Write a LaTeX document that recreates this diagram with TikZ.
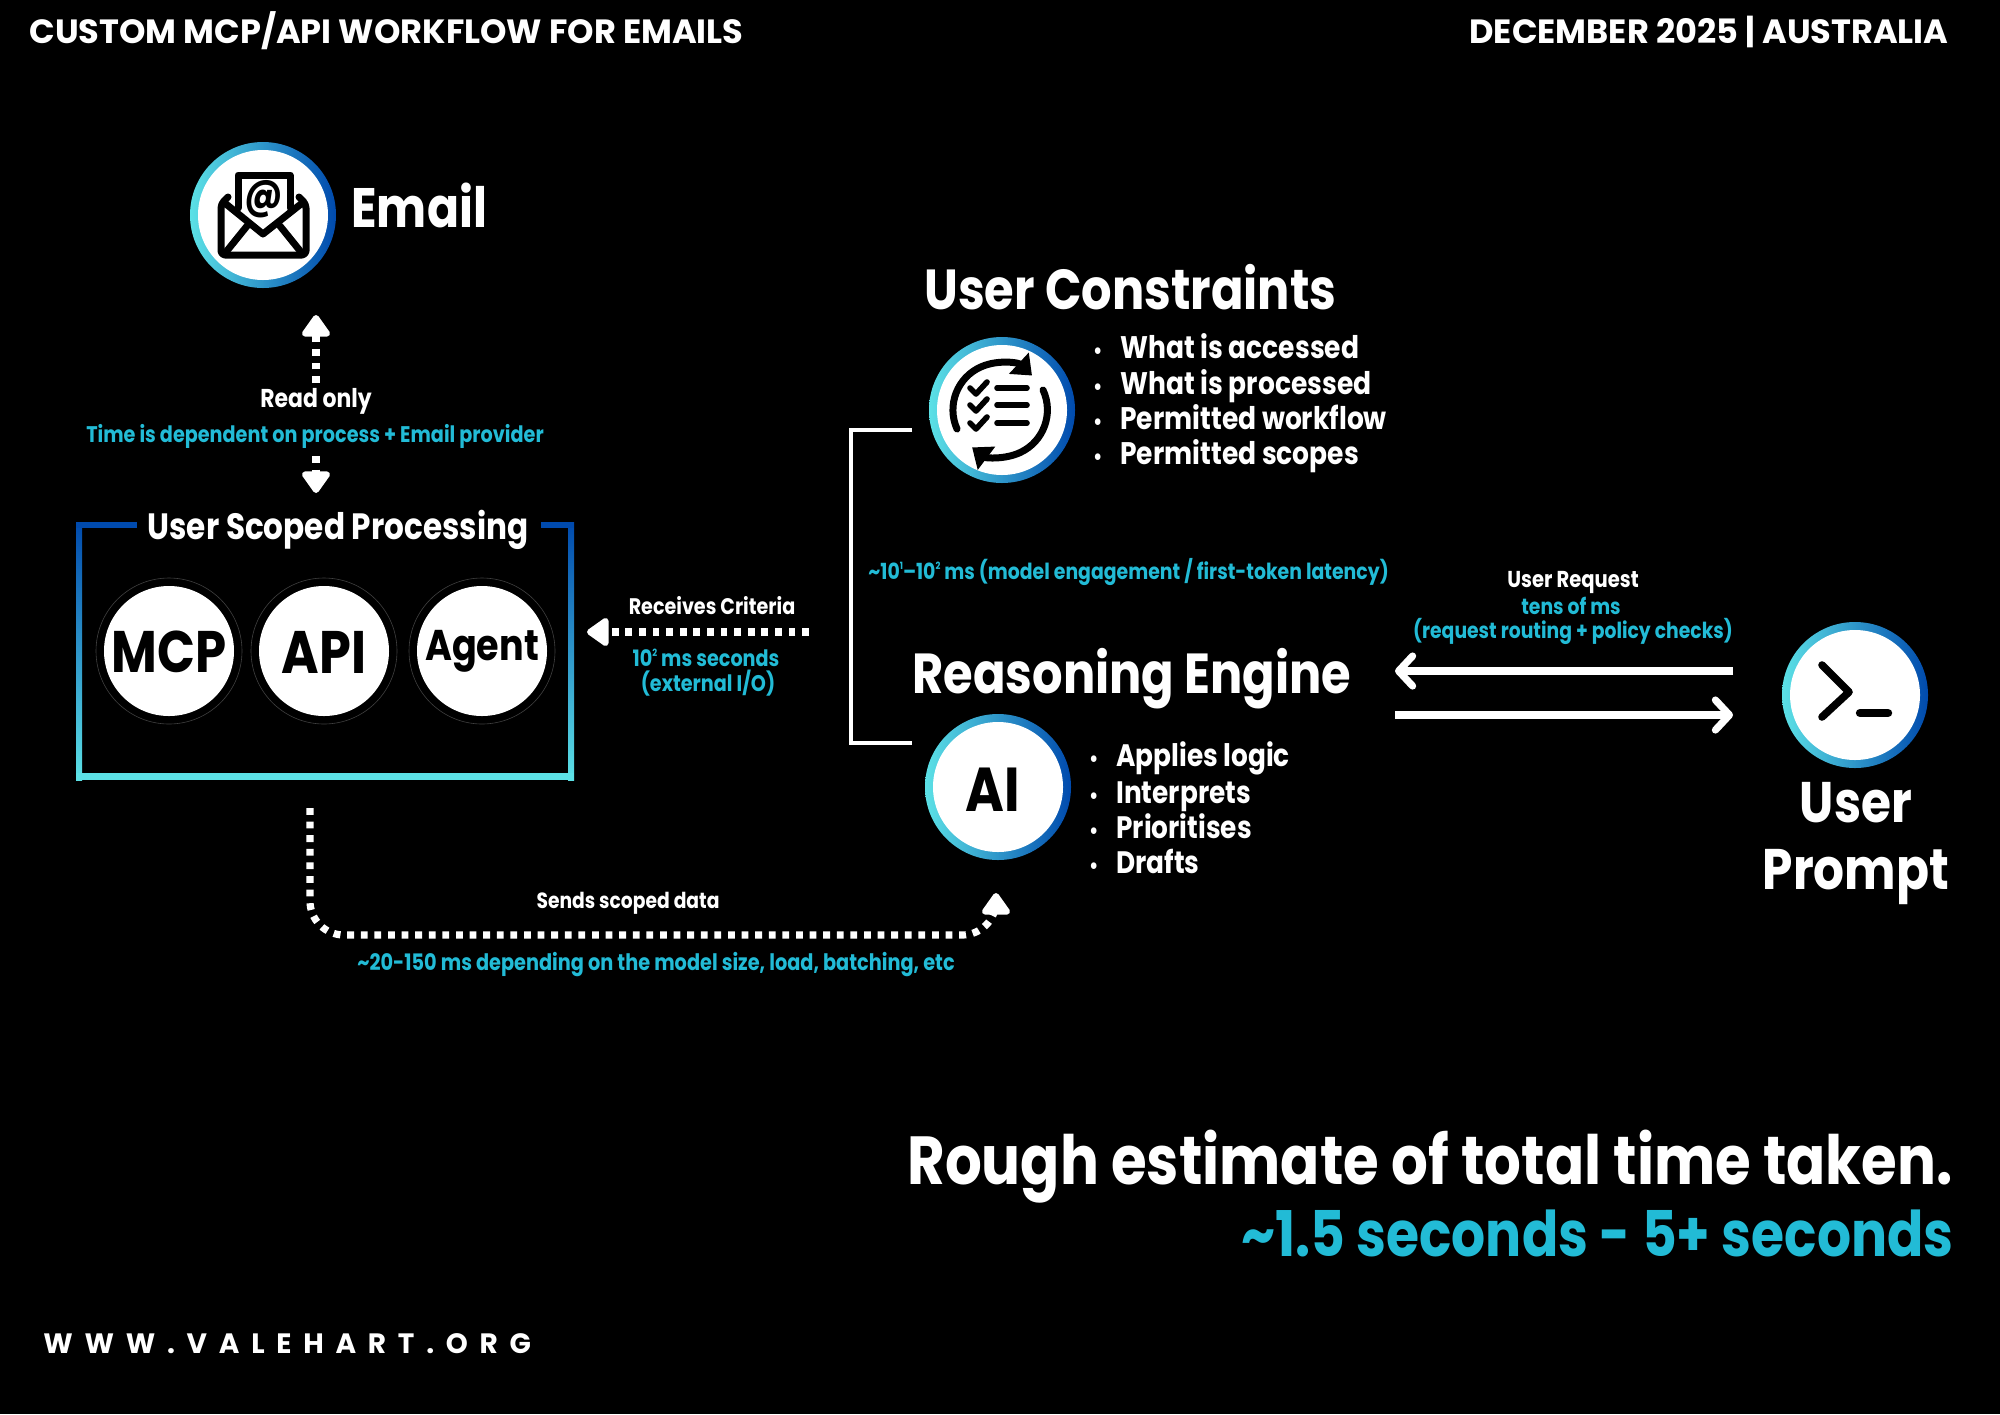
\documentclass[tikz,border=0pt]{standalone}
\usepackage{fontspec}
\setmainfont{Poppins}[FakeStretch=0.85]
\newfontfamily\widefont{Poppins}
\usetikzlibrary{arrows.meta, positioning}
\definecolor{tealtext}{HTML}{22BBD6}
\definecolor{ringcyan}{HTML}{5CE1E6}
\definecolor{ringblue}{HTML}{004AAD}
\newcommand{\sz}[1]{\fontsize{#1}{#1}\selectfont\bfseries}
\newcommand{\tinysup}[1]{\raisebox{0.75ex}{\fontsize{5}{5}\selectfont #1}}
\tikzset{
  % one unit is one pixel of the 2000x1414 picture, y runs downward
  x=0.5pt, y=-0.5pt,
  white text/.style={text=white, inner sep=0pt, anchor=base},
  teal text/.style={text=tealtext, inner sep=0pt, anchor=base},
  ring/.style={circle, draw=none, inner sep=0pt, minimum size=73pt, left color=ringcyan, right color=ringblue},
  disc/.style={circle, fill=white, inner sep=0pt, minimum size=65pt},
  dotted arrow/.style={draw=white, line width=3.6pt, dash pattern=on 3.4pt off 3.4pt,
    -{Triangle[round, length=12pt, width=16pt]}},
  solid arrow/.style={draw=white, line width=3.8pt, -{Straight Barb[round, length=7pt, width=15pt, line width=3.6pt]}},
  icon line/.style={draw=black, line width=3.5pt, line cap=round, line join=round},
}
\begin{document}
\begin{tikzpicture}
  \useasboundingbox (0,0) rectangle (2000,1414);
  \fill[black] (0,0) rectangle (2000,1414);

  % header and footer
  \node[white text, anchor=base west, font=\widefont\sz{16.8}] (title) at (29,43) {CUSTOM MCP/API WORKFLOW FOR EMAILS};
  \node[white text, anchor=base east, font=\widefont\sz{16.8}] (date) at (1949,43) {DECEMBER 2025 | AUSTRALIA};
  \node[white text, anchor=base west, font=\widefont\sz{14}\addfontfeature{LetterSpace=42}] (site) at (43,1353) {WWW.VALEHART.ORG};
  \node[white text, anchor=base east, font=\sz{34}] (estimate) at (1953,1184) {Rough estimate of total time taken.};
  \node[teal text, anchor=base east, font=\sz{31.5}] (total) at (1954,1256) {\textasciitilde1.5 seconds - 5+ seconds};

  % email
  \node[ring] (email_ring) at (263,215) {};
  \node[disc] (email_disc) at (email_ring) {};
  \node[white text, anchor=base west, font=\sz{27.8}] (email_label) at (351,227) {Email};
  \draw[icon line] (238,208) -- (238,175) -- (290,175) -- (290,208);
  \node[inner sep=0pt, text=black, font=\sz{21}] (email_at) at (264,199) {@};
  \draw[icon line, rounded corners=2pt] (228,197) -- (221,204) -- (221,255) -- (306,255) -- (306,204) -- (299,197);
  \draw[icon line] (226,204) -- (263,234) -- (301,204);
  \draw[icon line] (226,252) -- (247,226);
  \draw[icon line] (301,252) -- (280,226);

  \node[white text, font=\sz{12.9}] (read_label) at (316,407) {Read only};
  \node[teal text, font=\sz{11.3}] (read_time) at (315,442) {Time is dependent on process + Email provider};
  \coordinate (read_up) at (316,315);
  \coordinate (read_down) at (316,493);
  \draw[dotted arrow] (316,383) -- (read_up);
  \draw[dotted arrow] (316,456) -- (read_down);

  % scoped processing frame
  \shade[top color=ringblue, bottom color=ringcyan] (76,522) rectangle (82,780);
  \shade[top color=ringblue, bottom color=ringcyan] (568,522) rectangle (574,780);
  \fill[ringcyan] (76,773) rectangle (574,780);
  \fill[ringblue] (76,522) rectangle (137,528);
  \fill[ringblue] (541,522) rectangle (574,528);
  \node[white text, font=\sz{18.3}] (scoped_label) at (338,539) {User Scoped Processing};
  \foreach \name/\xpos/\ypos/\size in {MCP/169/652/29.3, API/324/652/30, Agent/482/651/21.5} {
    \node[circle, draw=white!25!black, line width=0.3pt, inner sep=0pt, minimum size=73pt] (\name_outer) at (\xpos,651) {};
    \node[disc] (\name_disc) at (\xpos,651) {};
    \node[inner sep=0pt, text=black, font=\sz{\size}] (\name_label) at (\xpos,\ypos) {\name};
  }

  % receives criteria
  \coordinate (criteria_end) at (809,632);
  \coordinate (criteria_tip) at (587,632);
  \draw[dotted arrow] (criteria_end) -- (criteria_tip);
  \node[white text, font=\sz{11.25}] (criteria_label) at (712,614) {Receives Criteria};
  \node[teal text, font=\sz{11.3}] (criteria_time) at (706,666) {10\tinysup{2} ms seconds};
  \node[teal text, font=\sz{11.3}] (criteria_io) at (708,691) {(external I/O)};

  % scoped data
  \coordinate (data_start) at (310,808);
  \coordinate (data_tip) at (996,893);
  \draw[dotted arrow, rounded corners=17pt] (data_start) -- (310,935) -- (996,935) -- (data_tip);
  \node[white text, font=\sz{11}] (data_label) at (628,908) {Sends scoped data};
  \node[teal text, font=\sz{11.35}] (data_time) at (656,970) {\textasciitilde20-150 ms depending on the model size, load, batching, etc};

  % constraints
  \node[white text, anchor=base west, font=\sz{28.2}] (constraints_label) at (924,309) {User Constraints};
  \node[ring] (constraints_ring) at (1002,410) {};
  \node[disc] (constraints_disc) at (constraints_ring) {};
  \draw[icon line, -{Triangle[length=9pt, width=14pt]}] (957,429) arc[start angle=156, end angle=313, radius=47];
  \draw[icon line, -{Triangle[length=9pt, width=14pt]}] (1043,390) arc[start angle=335, end angle=487, radius=47];
  \foreach \ypos in {388,405,423} {
    \draw[icon line, line width=2.8pt] (970,\ypos) -- (976,\ypos+6) -- (987,\ypos-6);
    \draw[icon line, line width=2.8pt] (997,\ypos) -- (1027,\ypos);
  }
  \foreach \item/\ypos in {What is accessed/358, What is processed/394, Permitted workflow/429, Permitted scopes/464} {
    \node[white text, anchor=base west, font=\sz{15.6}] at (1120,\ypos) {\llap{\fontsize{11}{11}\selectfont\textbullet\hspace{9pt}}\item};
  }

  % bracket between constraints and engine
  \coordinate (bracket_top) at (912,430);
  \coordinate (bracket_bottom) at (912,743);
  \draw[white, line width=1.6pt] (bracket_top) -- (851,430) -- (851,743) -- (bracket_bottom);
  \node[teal text, anchor=base west, font=\sz{11.1}] (engine_time) at (868,579) {\textasciitilde10\tinysup{1}--10\tinysup{2} ms (model engagement / first-token latency)};

  % engine
  \node[white text, anchor=base west, font=\sz{28.2}] (engine_label) at (912,693) {Reasoning Engine};
  \node[ring] (engine_ring) at (998,787) {};
  \node[disc] (engine_disc) at (engine_ring) {};
  \node[inner sep=0pt, text=black, font=\sz{31}] (engine_ai) at (993,790) {AI};
  \foreach \item/\ypos in {Applies logic/766, Interprets/803, Prioritises/838, Drafts/873} {
    \node[white text, anchor=base west, font=\sz{15.5}] at (1116,\ypos) {\llap{\fontsize{11}{11}\selectfont\textbullet\hspace{9pt}}\item};
  }

  % prompt
  \node[ring] (prompt_ring) at (1855,695) {};
  \node[disc] (prompt_disc) at (prompt_ring) {};
  \draw[icon line, line width=3.8pt] (1822,665) -- (1849,692) -- (1822,717);
  \draw[icon line, line width=4.2pt] (1860,713) -- (1888,713);
  \node[white text, font=\sz{28.6}] (prompt_user) at (1856,822) {User};
  \node[white text, font=\sz{28.6}] (prompt_label) at (1856,889) {Prompt};

  \coordinate (request_right_top) at (1733,671);
  \coordinate (request_left_top) at (1395,671);
  \coordinate (request_left_low) at (1395,715);
  \coordinate (request_right_low) at (1733,715);
  \draw[solid arrow] (request_right_top) -- (request_left_top);
  \draw[solid arrow] (request_left_low) -- (request_right_low);
  \node[white text, font=\sz{11.5}] (request_label) at (1573,587) {User Request};
  \node[teal text, font=\sz{11.05}] (request_time) at (1571,614) {tens of ms};
  \node[teal text, font=\sz{11.05}] (request_why) at (1573,638) {(request routing + policy checks)};
\end{tikzpicture}
\end{document}
